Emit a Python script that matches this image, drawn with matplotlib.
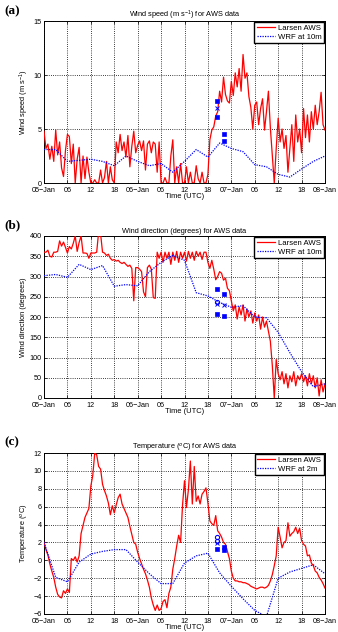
import numpy as np
import matplotlib
matplotlib.use("Agg")
import matplotlib.pyplot as plt

plt.rcParams['font.family'] = ['Liberation Sans', 'DejaVu Sans']
plt.rcParams['mathtext.fontset'] = 'custom'
plt.rcParams['mathtext.rm'] = 'Liberation Sans'

# ---------------- DATA ----------------
tick_hours = [0, 6, 12, 18, 24, 30, 36, 42, 48, 54, 60, 66, 72]
tick_labels = ['05\u2212Jan', '06', '12', '18', '06\u2212Jan', '06', '12', '18',
               '07\u2212Jan', '06', '12', '18', '08\u2212Jan']

# AWS observations every 0.5 h from 05-Jan 00 UTC to 08-Jan 00 UTC
aws_time = np.arange(0, 72.01, 0.5)

aws_speed = [
    4.8, 3.2, 3.6, 2.2, 3.4, 2.0, 4.9, 2.6, 3.8, 1.4, 0.6, 3.0,
    4.5, 4.3, 1.8, 3.6, 0.0, 2.2, 3.3, 0.0, 2.5, 0.4, 2.4, 1.0,
    0.0, 0.0, 0.3, 0.0, 0.0, 1.2, 0.0, 0.5, 2.0, 0.0, 1.5, 0.3,
    0.0, 3.8, 2.8, 4.5, 3.0, 3.8, 2.4, 4.4, 1.5, 3.4, 4.8, 2.8,
    3.5, 3.9, 3.0, 3.9, 1.2, 3.6, 3.9, 2.8, 3.8, 3.6, 1.0, 3.8,
    0.0, 0.0, 0.5, 0.0, 0.0, 2.5, 4.0, 0.0, 1.5, 0.0, 1.8, 0.0,
    0.0, 1.5, 0.0, 1.0, 0.0, 0.0, 1.6, 0.4, 0.0, 1.0, 0.0, 0.0,
    0.8, 4.0, 4.9, 5.2, 6.2, 6.6, 8.5, 7.5, 9.8, 8.2, 7.6, 7.4,
    9.4, 8.1, 10.2, 8.9, 10.6, 8.5, 11.9, 9.7, 10.2, 8.0, 7.0, 5.0,
    7.2, 7.5, 5.4, 6.9, 7.8, 4.9, 6.6, 8.5, 5.1, 2.6, 0.0, 3.2,
    6.0, 3.8, 5.0, 3.2, 4.4, 1.0, 3.2, 5.4, 2.0, 6.3, 3.8, 5.0,
    2.8, 6.9, 4.2, 6.3, 3.8, 6.6, 5.0, 7.2, 5.4, 6.6, 8.4, 5.4, 4.9,
]

aws_dir = [
    360, 360, 365, 350, 348, 360, 360, 362, 388, 375, 385, 372,
    358, 374, 368, 382, 400, 362, 384, 400, 358, 358, 357, 345,
    358, 358, 358, 360, 410, 405, 360, 358, 352, 355, 345, 340,
    342, 338, 340, 335, 332, 335, 330, 325, 328, 320, 240, 322,
    322, 318, 312, 262, 250, 322, 328, 318, 248, 246, 360, 345,
    360, 335, 360, 345, 360, 330, 360, 340, 362, 335, 360, 345,
    360, 338, 362, 345, 360, 340, 362, 350, 360, 342, 360, 360,
    335, 320, 340, 318, 292, 300, 312, 308, 291, 296, 271, 265,
    240, 215, 230, 195, 225, 205, 230, 190, 220, 200, 215, 185,
    210, 190, 205, 170, 200, 175, 190, 165, 140, 80, 0, 95,
    60, 45, 65, 35, 60, 25, 55, 40, 65, 30, 55, 45,
    60, 40, 55, 30, 60, 35, 55, 25, 50, 5, 45, 15, 35,
]

aws_temp = [
    2.0, 1.2, 0.6, -0.4, -1.2, -1.9, -3.0, -3.8, -4.1, -4.2, -3.4, -3.7,
    -3.2, -3.6, 0.2, 0.0, 0.4, -0.2, 0.5, 3.0, 3.9, 4.8, 5.3, 5.8,
    8.3, 9.5, 12.0, 11.8, 10.5, 10.2, 8.5, 7.8, 7.2, 6.4, 5.1, 6.1,
    5.3, 6.2, 7.0, 7.4, 6.3, 5.8, 5.3, 4.8, 3.8, 2.9, 2.0, 1.8,
    0.9, 0.2, -0.4, -1.0, -1.5, -2.2, -3.0, -4.2, -5.0, -5.6, -5.0, -5.6,
    -5.4, -4.6, -4.4, -5.3, -3.7, -3.0, -1.0, 0.2, 1.6, 2.8, 2.0, 6.2,
    8.9, 5.9, 7.9, 11.1, 6.3, 10.5, 6.6, 7.2, 6.3, 7.4, 7.7, 8.1,
    6.4, 4.4, 4.1, 3.9, 5.0, 3.3, 3.0, 2.6, 2.0, 1.8, 1.0, 0.2,
    -1.2, -2.0, -2.3, -2.3, -2.4, -2.4, -2.5, -2.5, -2.6, -2.7, -2.9, -3.0,
    -3.1, -3.2, -3.1, -3.0, -3.0, -3.1, -3.0, -2.8, -2.3, -1.6, -0.6, 0.5,
    3.7, 2.6, 1.4, 2.0, 2.2, 4.2, 2.7, 3.0, 3.2, 3.7, 3.0, 3.6,
    2.2, 1.8, 1.6, 0.5, 0.6, -0.3, -0.6, -1.2, -1.4, -1.9, -2.2, -2.6, -3.1,
]

# WRF model output every 3 h
wrf_time = np.arange(0, 73, 3)
wrf_speed = [3.1, 3.1, 2.0, 2.1, 2.2, 2.0, 1.6, 2.5, 2.0, 1.6, 1.8, 1.0, 2.0,
             3.1, 2.4, 3.7, 3.2, 2.9, 1.7, 1.5, 0.8, 0.55, 1.3, 2.0, 2.5]
wrf_dir = [302, 305, 298, 330, 317, 327, 276, 280, 277, 312, 335, 352, 340,
           260, 252, 236, 224, 228, 200, 198, 162, 112, 65, 28, 35]
wrf_temp = [2.0, -1.9, -2.4, -0.2, 0.7, 1.0, 1.2, 1.2, -0.2, -1.5, -2.6, -2.6, -0.3,
            0.5, 0.8, -1.4, -2.9, -4.3, -5.6, -6.3, -2.0, -1.3, -0.9, -0.5, -1.5]

# Additional blue point observations
sq_time_a = [44.4, 44.4, 46.0, 46.0]
sq_val_a = [7.6, 6.1, 4.5, 3.9]
x_time_a = [44.4]
x_val_a = [6.9]

sq_time_b = [44.4, 44.4, 46.0, 46.0]
sq_val_b = [268, 208, 257, 202]
o_time_b = [44.4]
o_val_b = [238]
x_time_b = [44.4, 46.0]
x_val_b = [233, 230]

sq_time_c = [44.4, 46.0, 46.0]
sq_val_c = [1.3, 1.5, 1.15]
o_time_c = [44.4, 44.4]
o_val_c = [2.65, 2.2]
x_time_c = [44.4]
x_val_c = [1.9]

# ---------------- PLOT ----------------
W, H = 338, 632
fig = plt.figure(figsize=(W / 100, H / 100), dpi=100)

def box(top, bottom, left=44, right=325):
    return [left / W, 1 - bottom / H, (right - left) / W, (bottom - top) / H]

panels = [
    dict(rect=box(21, 183), y=aws_speed, wrf=wrf_speed, ylim=(0, 15), yticks=[0, 5, 10, 15],
         title='Wind speed (m s$^{-1}$) for AWS data', ylabel='Wind speed (m s$^{-1}$)',
         wrflab='WRF at 10m', label='(a)', lab_y=11,
         sq=(sq_time_a, sq_val_a), o=None, x=(x_time_a, x_val_a)),
    dict(rect=box(236, 398), y=aws_dir, wrf=wrf_dir, ylim=(0, 400), yticks=list(range(0, 401, 50)),
         title='Wind direction (degrees) for AWS data', ylabel='Wind direction (degrees)',
         wrflab='WRF at 10m', label='(b)', lab_y=225,
         sq=(sq_time_b, sq_val_b), o=(o_time_b, o_val_b), x=(x_time_b, x_val_b)),
    dict(rect=box(453, 614), y=aws_temp, wrf=wrf_temp, ylim=(-6, 12), yticks=list(range(-6, 13, 2)),
         title='Temperature ($^o$C) for AWS data', ylabel='Temperature ($^o$C)',
         wrflab='WRF at 2m', label='(c)', lab_y=442,
         sq=(sq_time_c, sq_val_c), o=(o_time_c, o_val_c), x=(x_time_c, x_val_c)),
]

for p in panels:
    ax = fig.add_axes(p['rect'])
    ax.plot(aws_time, p['y'], color='#ff0000', lw=0.9, label='Larsen AWS', zorder=3)
    ax.plot(wrf_time, p['wrf'], color='#0000ff', lw=0.9, ls=(0, (1, 1)), label=p['wrflab'], zorder=3)
    ax.plot(*p['sq'], ls='none', marker='s', ms=3, color='#0000ff', mew=0.5, zorder=4)
    if p['o'] is not None:
        ax.plot(*p['o'], ls='none', marker='o', ms=3, mfc='none', mec='#0000ff', mew=0.8, zorder=4)
    ax.plot(*p['x'], ls='none', marker='x', ms=2.5, color='#0000ff', mew=0.7, zorder=4)

    ax.set_xlim(0, 72)
    ax.set_ylim(*p['ylim'])
    ax.set_xticks(tick_hours)
    ax.set_xticklabels(tick_labels)
    ax.set_yticks(p['yticks'])
    ax.tick_params(direction='in', length=2, width=0.5, labelsize=5.2,
                   top=True, right=True)
    ax.tick_params(axis='x', pad=2.6)
    ax.tick_params(axis='y', pad=1.5)
    ax.grid(True, color='k', ls=(0, (1, 1.6)), lw=0.6)
    for s in ax.spines.values():
        s.set_linewidth(0.7)
    ax.set_title(p['title'], fontsize=5.3, pad=2.5)
    ax.set_ylabel(p['ylabel'], fontsize=5.3, labelpad=2)
    ax.set_xlabel('Time (UTC)', fontsize=5.4, labelpad=-0.5)
    leg = ax.legend(loc='upper right', fontsize=5.6, frameon=True, fancybox=False,
                    edgecolor='k', framealpha=1, borderpad=0.3, labelspacing=0.2,
                    handlelength=2.3, handletextpad=0.4, borderaxespad=0.15)
    leg.get_frame().set_linewidth(1.0)
    fig.text(4 / W, 1 - p['lab_y'] / H, p['label'], fontsize=9.5, fontweight='bold',
             family='Liberation Serif', va='center', ha='left')

fig.savefig('out.png', dpi=100)
